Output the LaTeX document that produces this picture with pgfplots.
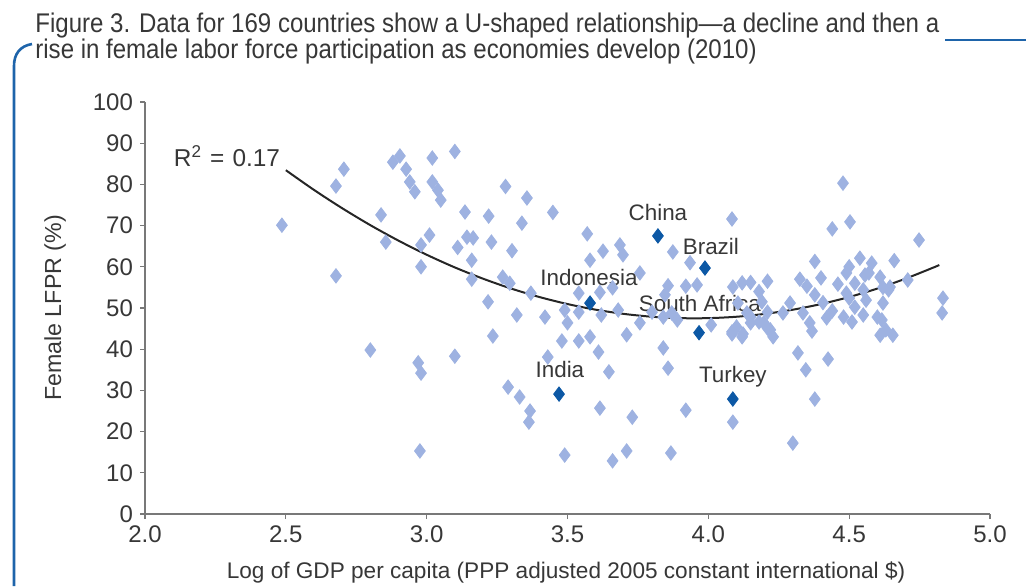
\documentclass[border=0pt]{standalone}
\usepackage{fontspec}
\setmainfont{Liberation Sans}
\newfontfamily\condfont{Liberation Sans}[FakeStretch=0.89]
\usepackage{pgfplots}
\pgfplotsset{compat=1.18}
\definecolor{lightpt}{RGB}{158,178,225}
\definecolor{darkpt}{RGB}{12,88,165}
\definecolor{frameblue}{RGB}{30,100,170}
\definecolor{txt}{RGB}{55,55,55}
\definecolor{axgray}{RGB}{120,120,120}

\pgfplotstableread{
x y
2.706 83.7
2.678 79.6
2.88 85.4
2.905 86.9
2.927 83.7
2.94 80.6
2.958 78.2
3.02 86.4
3.02 80.6
3.04 78.6
3.05 76.2
2.838 72.6
2.855 66.0
3.01 67.7
2.98 65.3
2.98 60.0
2.486 70.1
2.678 57.8
2.80 39.8
2.97 36.7
2.98 34.2
2.976 15.3
3.10 88.0
3.28 79.5
3.356 76.7
3.136 73.3
3.22 72.3
3.448 73.2
3.338 70.6
3.143 67.2
3.165 67.0
3.23 66.0
3.11 64.7
3.303 63.9
3.57 68.0
3.16 61.6
3.626 63.8
3.686 65.3
3.697 62.9
3.58 61.6
3.874 63.6
3.935 61.0
3.16 57.0
3.27 57.5
3.295 56.0
3.37 53.6
3.218 51.5
3.32 48.3
3.42 47.8
3.50 46.4
3.54 53.6
3.615 53.8
3.66 54.9
3.757 58.5
3.857 55.4
3.92 55.3
3.96 55.6
3.846 53.2
3.80 49.0
3.87 48.8
3.49 49.5
3.54 49.0
3.62 48.3
3.68 49.5
3.71 43.5
3.757 46.4
3.84 47.8
3.89 47.1
4.01 45.9
4.084 44.2
3.48 42.0
3.54 42.0
3.58 43.0
4.087 55.1
3.235 43.2
3.10 38.3
3.43 38.1
3.61 39.3
3.647 34.5
3.84 40.3
3.857 35.4
3.289 30.8
3.33 28.4
3.367 25.0
3.363 22.3
3.615 25.7
3.73 23.5
3.92 25.2
3.49 14.3
3.71 15.3
3.66 12.9
3.867 14.8
4.478 80.3
4.084 71.6
4.503 70.9
4.44 69.2
4.748 66.5
4.378 61.3
4.538 62.1
4.58 60.9
4.50 60.0
4.49 58.5
4.66 61.5
4.40 57.3
4.52 56.0
4.556 58.0
4.61 57.5
4.708 56.8
4.12 56.1
4.15 56.2
4.21 56.5
4.18 54.0
4.325 57.0
4.35 55.3
4.378 53.2
4.407 51.3
4.44 49.3
4.48 47.8
4.46 55.8
4.49 53.6
4.50 52.4
4.55 54.4
4.52 50.2
4.56 51.9
4.62 51.2
4.62 55.0
4.645 55.1
4.29 51.2
4.265 48.8
4.336 48.8
4.55 48.3
4.60 47.8
4.616 47.1
4.833 52.4
4.83 48.8
4.105 51.2
4.19 51.5
4.137 48.8
4.21 49.0
4.36 46.4
4.42 47.6
4.15 47.8
4.197 46.4
4.22 44.7
4.10 45.4
4.12 43.0
4.23 43.0
4.63 44.7
4.57 58.5
4.64 54.4
4.087 22.3
4.30 17.2
4.378 27.9
4.318 39.1
4.425 37.6
4.346 35.0
4.368 44.4
4.084 43.7
4.123 43.7
4.21 45.1
4.15 46.4
4.18 46.6
4.51 46.6
4.61 43.4
4.655 43.4
}\lightdata

\pgfplotstableread{
x y
3.821 67.5
3.988 59.7
3.58 51.2
3.967 44.0
3.47 29.1
4.087 27.9
}\darkdata

\pgfplotstableread{
x y
2.5 83.45
2.6 78.66
2.7 74.22
2.8 70.11
2.9 66.35
3.0 62.93
3.1 59.85
3.2 57.12
3.3 54.72
3.4 52.67
3.5 50.96
3.6 49.59
3.7 48.57
3.8 47.88
3.9 47.54
4.0 47.54
4.1 47.88
4.2 48.57
4.3 49.59
4.4 50.96
4.5 52.67
4.6 54.72
4.7 57.12
4.8 59.85
4.82 60.44
}\fitdata

\begin{document}
\begin{tikzpicture}[x=0.5pt,y=0.5pt]
\useasboundingbox (0,0) rectangle (1026,586);
% frame
\draw[frameblue, line width=1.3pt] (14,0) -- (14,520) .. controls (14,532) and (20,540) .. (32,542);
\draw[frameblue, line width=1.3pt] (945,546) -- (1026,546);
% title
\node[anchor=base west, inner sep=0pt, text=txt, font=\condfont\fontsize{13.5}{16}\selectfont] at (35,554)
  {Figure 3. Data for 169 countries show a U-shaped relationship—a decline and then a};
\node[anchor=base west, inner sep=0pt, text=txt, font=\condfont\fontsize{13.5}{16}\selectfont] at (35,528)
  {rise in female labor force participation as economies develop (2010)};

\begin{axis}[
  at={(72.5pt,36pt)}, anchor=south west,
  scale only axis, width=422.5pt, height=206pt,
  xmin=2, xmax=5, ymin=0, ymax=100,
  axis x line=bottom, axis y line=left,
  axis line style={-, axgray, line width=0.6pt},
  xtick={2,2.5,...,5}, ytick={0,10,...,100},
  tick align=outside, major tick length=2.5pt,
  tick style={axgray, line width=0.6pt},
  xticklabel style={/pgf/number format/.cd, fixed, fixed zerofill, precision=1},
  /pgf/number format/assume math mode=true,
  tick label style={text=txt, font=\fontsize{12}{14}\selectfont},
  clip=false,
]
\addplot[only marks, mark=diamond*, mark size=3.6pt, color=lightpt, mark options={draw=lightpt, fill=lightpt}] table[x=x,y=y] {\lightdata};
\addplot[only marks, mark=diamond*, mark size=3.6pt, color=darkpt, mark options={draw=darkpt, fill=darkpt}] table[x=x,y=y] {\darkdata};
\addplot[smooth, line width=1pt, color=black!85] table[x=x,y=y] {\fitdata};
\node[text=txt, font=\fontsize{11.2}{13}\selectfont] at (axis cs:3.821,73.3) {China};
\node[text=txt, font=\fontsize{11.2}{13}\selectfont] at (axis cs:4.009,65.0) {Brazil};
\node[text=txt, font=\fontsize{11.2}{13}\selectfont] at (axis cs:3.576,57.5) {Indonesia};
\node[text=txt, font=\fontsize{11.2}{13}\selectfont] at (axis cs:3.97,51.0) {South Africa};
\node[text=txt, font=\fontsize{11.2}{13}\selectfont] at (axis cs:3.473,35.0) {India};
\node[text=txt, font=\fontsize{11.2}{13}\selectfont] at (axis cs:4.087,33.3) {Turkey};
\node[text=txt, font=\fontsize{12.2}{14}\selectfont] at (axis cs:2.291,86.9) {R\textsuperscript{2}\,\,=\,\,0.17};
\end{axis}
\node[rotate=90, text=txt, font=\fontsize{11.6}{13}\selectfont] at (55,278) {Female LFPR (\%)};
\node[text=txt, font=\fontsize{11.3}{13}\selectfont] at (566,14) {Log of GDP per capita (PPP adjusted 2005 constant international \$)};
\end{tikzpicture}
\end{document}
